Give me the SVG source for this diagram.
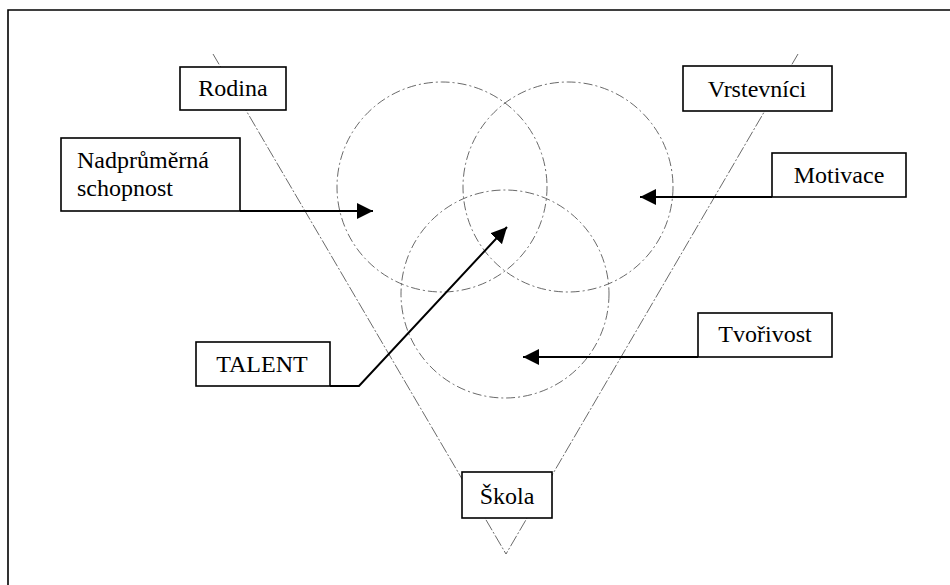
<svg xmlns="http://www.w3.org/2000/svg" width="950" height="585" viewBox="0 0 950 585">
<style>
.box{fill:#fff;stroke:#000;stroke-width:1.6}
.lbl{font-family:"Liberation Serif","Times New Roman",serif;font-size:24px;fill:#000}
.mid{text-anchor:middle}
.circ{fill:none;stroke:#444;stroke-width:0.8;stroke-dasharray:9 3 2 3}
.tri{fill:none;stroke:#444;stroke-width:0.8;stroke-dasharray:12 2 2 2}
.arr{fill:none;stroke:#000;stroke-width:2;marker-end:url(#ah)}
</style>
<defs>
<marker id="ah" markerUnits="userSpaceOnUse" markerWidth="18" markerHeight="16" refX="16" refY="8" orient="auto">
<path d="M0,0 L16,8 L0,16 Z" fill="#000"/>
</marker>
</defs>
<rect width="950" height="585" fill="#fff"/>
<g id="frame" fill="none" stroke="#000" stroke-width="1.6">
<path d="M8,585 V10 H950"/>
</g>
<g id="triangle" class="tri">
<line x1="213" y1="54" x2="506" y2="554"/>
<line x1="798" y1="54" x2="506" y2="554"/>
</g>
<g id="circles">
<circle class="circ" cx="442" cy="187" r="105"/>
<circle class="circ" cx="568" cy="187" r="105"/>
<circle class="circ" cx="505" cy="294" r="104"/>
</g>
<g id="rodina">
<rect class="box" x="180" y="67" width="106" height="43"/>
<text class="lbl mid" x="233" y="96">Rodina</text>
</g>
<g id="vrstevnici">
<rect class="box" x="683" y="66" width="149" height="45"/>
<text class="lbl mid" x="757" y="97">Vrstevníci</text>
</g>
<g id="nadprumerna">
<rect class="box" x="61" y="138" width="179" height="73"/>
<text class="lbl" x="77" y="168">Nadprůměrná</text>
<text class="lbl" x="77" y="196">schopnost</text>
</g>
<g id="motivace">
<rect class="box" x="772" y="153" width="134" height="44"/>
<text class="lbl mid" x="839" y="183">Motivace</text>
</g>
<g id="tvorivost">
<rect class="box" x="698" y="313" width="134" height="44"/>
<text class="lbl mid" x="765" y="342">Tvořivost</text>
</g>
<g id="talent">
<rect class="box" x="196" y="342" width="134" height="44"/>
<text class="lbl mid" x="262" y="372">TALENT</text>
</g>
<g id="skola">
<rect class="box" x="462" y="472" width="90" height="46"/>
<text class="lbl mid" x="507" y="504">Škola</text>
</g>
<g id="connectors">
<path class="arr" d="M240,211 H373"/>
<path class="arr" d="M772,197 H640"/>
<path class="arr" d="M698,357 H523"/>
<path class="arr" d="M330,386 H359 L507,227"/>
</g>
</svg>
